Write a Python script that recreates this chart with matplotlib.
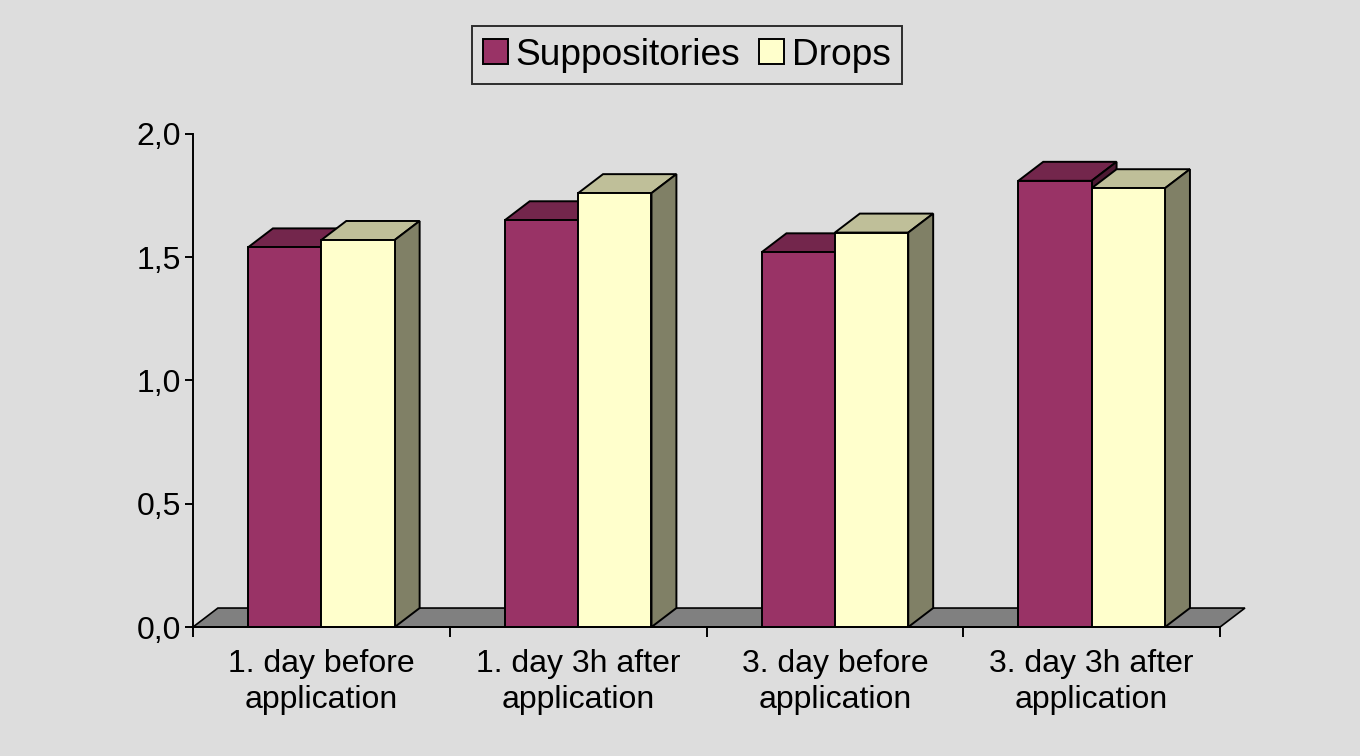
import matplotlib.pyplot as plt
from matplotlib.patches import Polygon, Patch
from matplotlib.ticker import FixedLocator

plt.rcParams['font.family'] = ['Liberation Sans', 'DejaVu Sans']

# ---------------------------------------------
# DATOS
# ---------------------------------------------
categories = ["1. day before\napplication", "1. day 3h after\napplication",
              "3. day before\napplication", "3. day 3h after\napplication"]
suppositories = [1.54, 1.65, 1.52, 1.81]
drops = [1.57, 1.76, 1.60, 1.78]
series_names = ["Suppositories", "Drops"]
y_ticks = [0.0, 0.5, 1.0, 1.5, 2.0]
y_tick_labels = ["0,0", "0,5", "1,0", "1,5", "2,0"]

front_colors = ["#993366", "#FFFFCC"]
top_colors = ["#73264C", "#BFBF99"]
side_colors = ["#4D1A33", "#808066"]

bg = "#DDDDDD"
width = 1 / 3.5      # gap width 150%
dx, dy = 0.097, 0.077  # desplazamiento de profundidad (unidades de datos)

fig = plt.figure(figsize=(13.6, 7.56), dpi=100, facecolor=bg)
ax = fig.add_axes([0.1419, 0.1706, 0.7552, 0.6522])
ax.set_facecolor(bg)
ax.set_xlim(-0.5, len(categories) - 0.5)
ax.set_ylim(0, 2)

# suelo gris
x0, x1 = -0.5, len(categories) - 0.5
floor = Polygon([(x0, 0), (x1, 0), (x1 + dx, dy), (x0 + dx, dy)], closed=True,
                facecolor="#808080", edgecolor="black", lw=1.2, clip_on=False, zorder=1)
ax.add_patch(floor)

# barras 3D
z = 2
for i in range(len(categories)):
    for s, vals in enumerate([suppositories, drops]):
        left = i - width + s * width
        right = left + width
        h = vals[i]
        top = Polygon([(left, h), (right, h), (right + dx, h + dy), (left + dx, h + dy)],
                      closed=True, facecolor=top_colors[s], edgecolor="black",
                      lw=1.4, clip_on=False, zorder=z)
        side = Polygon([(right, 0), (right + dx, dy), (right + dx, h + dy), (right, h)],
                       closed=True, facecolor=side_colors[s], edgecolor="black",
                       lw=1.4, clip_on=False, zorder=z)
        ax.add_patch(top)
        ax.add_patch(side)
        ax.bar(left, h, width=width, align="edge", color=front_colors[s],
               edgecolor="black", lw=1.4, zorder=z + 1, clip_on=False)
        z += 2

# ejes
for sp in ["top", "right"]:
    ax.spines[sp].set_visible(False)
for sp in ["left", "bottom"]:
    ax.spines[sp].set_linewidth(1.4)
    ax.spines[sp].set_zorder(50)

ax.set_yticks(y_ticks)
ax.set_yticklabels(y_tick_labels, fontsize=23)
ax.tick_params(axis="y", direction="out", length=5.5, width=1.4, pad=3)

ax.xaxis.set_major_locator(FixedLocator([x0 + k for k in range(len(categories) + 1)]))
ax.xaxis.set_minor_locator(FixedLocator(range(len(categories))))
ax.tick_params(axis="x", which="major", direction="out", length=7, width=1.4, labelbottom=False)
ax.set_xticklabels(categories, minor=True, fontsize=23, linespacing=1.25)
ax.tick_params(axis="x", which="minor", length=0, pad=16)

handles = [Patch(facecolor=front_colors[k], edgecolor="black", lw=1.4) for k in range(2)]
leg = fig.legend(handles, series_names, loc="upper center", bbox_to_anchor=(0.505, 0.965),
                 ncol=2, fontsize=26.7, frameon=True, fancybox=False, edgecolor="black",
                 facecolor=bg, handlelength=0.67, handleheight=0.67, handletextpad=0.22,
                 columnspacing=0.5, borderpad=0.3, borderaxespad=0)
leg.get_frame().set_linewidth(1.4)

fig.savefig("out.png", dpi=100, facecolor=bg)
